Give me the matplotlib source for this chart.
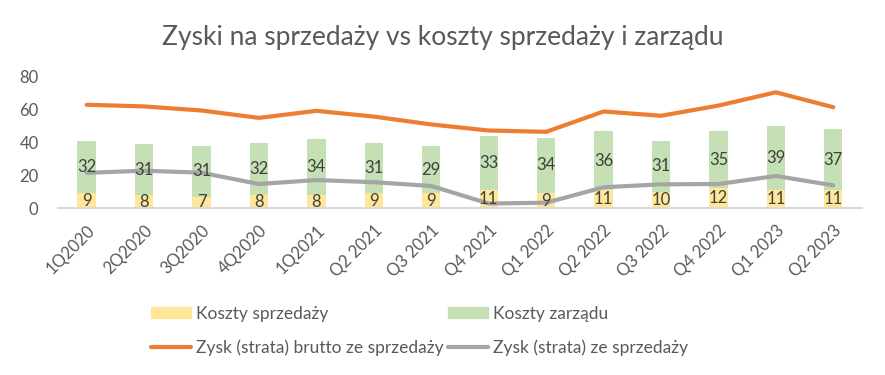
import numpy as np
import matplotlib.pyplot as plt
from matplotlib.patches import Patch
from matplotlib.lines import Line2D

plt.rcParams['font.family'] = ['Lato', 'DejaVu Sans']

# dane
kwartaly = ['1Q2020', '2Q2020', '3Q2020', '4Q2020', '1Q2021', 'Q2 2021', 'Q3 2021',
            'Q4 2021', 'Q1 2022', 'Q2 2022', 'Q3 2022', 'Q4 2022', 'Q1 2023', 'Q2 2023']
koszty_sprzedazy = [9, 8, 7, 8, 8, 9, 9, 11, 9, 11, 10, 12, 11, 11]
koszty_zarzadu = [32, 31, 31, 32, 34, 31, 29, 33, 34, 36, 31, 35, 39, 37]
zysk_brutto = [63, 62, 59.5, 55, 59.3, 55.8, 51, 47.3, 46.5, 58.9, 56.3, 62.5, 70.6, 61.5]
zysk_sprzedaz = [21.5, 22.8, 21.6, 14.7, 17.1, 15.8, 13.5, 2.8, 3.3, 12.7, 14.5, 14.7, 19.6, 13.9]

TXT = '#595959'
LBL = '#404040'

fig = plt.figure(figsize=(8.85, 3.75), dpi=100)
ax = fig.add_axes([0.0655, 0.445, 0.9085, 0.35])

x = np.arange(len(kwartaly))
w = 0.32
ax.bar(x, koszty_sprzedazy, width=w, color='#FFE699', zorder=2)
ax.bar(x, koszty_zarzadu, width=w, bottom=koszty_sprzedazy, color='#C5E0B4', zorder=2)

# etykiety danych w środku segmentów
for i in x:
    ax.text(i, koszty_sprzedazy[i] / 2, str(koszty_sprzedazy[i]),
            ha='center', va='center', fontsize=12, color=LBL, zorder=5)
    ax.text(i, koszty_sprzedazy[i] + koszty_zarzadu[i] / 2, str(koszty_zarzadu[i]),
            ha='center', va='center', fontsize=12, color=LBL, zorder=5)

ax.plot(x, zysk_brutto, color='#ED7D31', lw=3, solid_capstyle='round', zorder=3)
ax.plot(x, zysk_sprzedaz, color='#A5A5A5', lw=3, solid_capstyle='round', zorder=3)

ax.set_xlim(-0.5, len(kwartaly) - 0.5)
ax.set_ylim(0, 80)
ax.set_yticks([0, 20, 40, 60, 80])
ax.set_xticks(x)
ax.set_xticklabels(kwartaly, rotation=45, ha='right', rotation_mode='anchor')
ax.tick_params(axis='both', length=0, labelsize=12, colors=TXT)
ax.tick_params(axis='x', pad=10)
ax.tick_params(axis='y', pad=14)

for s in ['top', 'right', 'left']:
    ax.spines[s].set_visible(False)
ax.spines['bottom'].set_color('#D9D9D9')
ax.spines['bottom'].set_linewidth(1.5)

fig.text(0.5, 0.90, 'Zyski na sprzedaży vs koszty sprzedaży i zarządu',
         ha='center', va='center', fontsize=19, color=TXT)

uchwyty = [Patch(color='#FFE699'), Line2D([], [], color='#ED7D31', lw=3, solid_capstyle='round'),
           Patch(color='#C5E0B4'), Line2D([], [], color='#A5A5A5', lw=3, solid_capstyle='round')]
etykiety = ['Koszty sprzedaży', 'Zysk (strata) brutto ze sprzedaży',
            'Koszty zarządu', 'Zysk (strata) ze sprzedaży']
fig.legend(uchwyty, etykiety, ncol=2, loc='center', bbox_to_anchor=(0.474, 0.118),
           frameon=False, fontsize=12.5, labelcolor=TXT, handlelength=2.3,
           handleheight=0.55, handletextpad=0.3, columnspacing=0.25, labelspacing=1.0,
           borderpad=0)

fig.savefig('out.png', dpi=100)
